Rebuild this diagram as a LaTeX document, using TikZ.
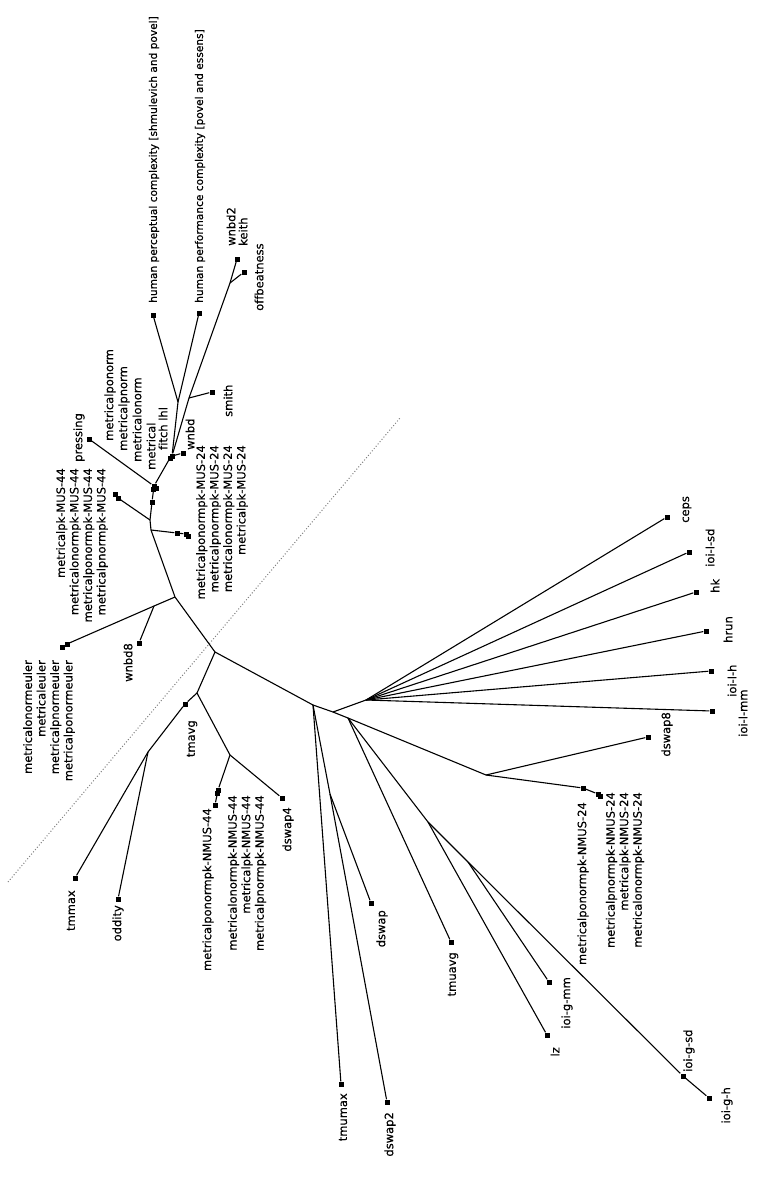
\documentclass[tikz,border=0pt]{standalone}
\usepackage{fontspec}
\setmainfont{DejaVu Sans}
\newfontfamily\lblfont[FakeBold=0.4,Ligatures=CommonOff]{DejaVu Sans}

\tikzset{
  leaf/.style={fill=black,inner sep=0pt,minimum size=5pt},
  lbl/.style={rotate=90,inner sep=0pt,font=\lblfont\fontsize{11.5}{13.5}\selectfont},
  longlbl/.style={lbl,font=\lblfont\fontsize{10.6}{13}\selectfont},
  twig/.style={line width=1.1pt}
}

\begin{document}
\begin{tikzpicture}[x=1pt,y=-1pt]
	\useasboundingbox (0,0) rectangle (762,1194);

	% split line
	\coordinate (cutA) at (8,882);
	\coordinate (cutB) at (400,418);
	\draw[gray,dotted,line width=1pt] (cutA) -- (cutB);

	% inner nodes
	\coordinate (a) at (215,652);
	\coordinate (b) at (175,597);
	\coordinate (b2) at (154,606);
	\coordinate (c) at (151,530);
	\coordinate (c2) at (150,520);
	\coordinate (g) at (178,402);
	\coordinate (h) at (189,398);
	\coordinate (h2) at (230,283);
	\coordinate (i) at (197,693);
	\coordinate (k) at (148,752);
	\coordinate (j) at (230,755);
	\coordinate (l) at (313,705);
	\coordinate (u) at (330,794);
	\coordinate (n) at (333,712);
	\coordinate (v) at (348,718);
	\coordinate (p) at (366,700);
	\coordinate (q) at (486,775);
	\coordinate (r) at (428,822);
	\coordinate (s) at (468,862);

	% leaves
	\node[leaf] (hperc) at (153,315) {};
	\node[leaf] (hperf) at (199,313) {};
	\node[leaf] (wnbdtwo) at (237,259) {};
	\node[leaf] (offb) at (244,272) {};
	\node[leaf] (smith) at (212,392) {};
	\node[leaf] (wnbd) at (183,453) {};
	\node[leaf] (fitchA) at (170,458) {};
	\node[leaf] (fitchB) at (172,456) {};
	\node[leaf] (metrA) at (154,486) {};
	\node[leaf] (metrB) at (156,488) {};
	\node[leaf] (metrC) at (153,489) {};
	\node[leaf] (pressing) at (89,439) {};
	\node[leaf] (wnbdfour) at (152,502) {};
	\node[leaf] (musfourA) at (115,494) {};
	\node[leaf] (musfourB) at (118,498) {};
	\node[leaf] (mustwoA) at (177,533) {};
	\node[leaf] (mustwoB) at (186,534) {};
	\node[leaf] (mustwoC) at (188,536) {};
	\node[leaf] (eulA) at (62,647) {};
	\node[leaf] (eulB) at (67,644) {};
	\node[leaf] (wnbdeight) at (139,643) {};
	\node[leaf] (tmavg) at (185,704) {};
	\node[leaf] (tmmax) at (75,878) {};
	\node[leaf] (oddity) at (118,899) {};
	\node[leaf] (nmfourA) at (218,790) {};
	\node[leaf] (nmfourB) at (217,793) {};
	\node[leaf] (nmfourC) at (215,805) {};
	\node[leaf] (dswapfour) at (282,798) {};
	\node[leaf] (tmumax) at (341,1084) {};
	\node[leaf] (dswaptwo) at (387,1102) {};
	\node[leaf] (dswap) at (371,903) {};
	\node[leaf] (tmuavg) at (451,942) {};
	\node[leaf] (lz) at (547,1035) {};
	\node[leaf] (iogmm) at (549,982) {};
	\node[leaf] (iogsd) at (683,1076) {};
	\node[leaf] (iogh) at (709,1098) {};
	\node[leaf] (nmtwoA) at (583,788) {};
	\node[leaf] (nmtwoB) at (598,794) {};
	\node[leaf] (nmtwoC) at (600,796) {};
	\node[leaf] (dswapeight) at (648,737) {};
	\node[leaf] (ceps) at (667,517) {};
	\node[leaf] (ioilsd) at (689,552) {};
	\node[leaf] (hk) at (696,592) {};
	\node[leaf] (hrun) at (706,631) {};
	\node[leaf] (ioilh) at (711,671) {};
	\node[leaf] (ioilmm) at (712,711) {};

	% branches
	\begin{scope}[twig]
		\draw (i) -- (a) -- (l);
		\draw (a) -- (b) -- (c) -- (c2) -- (wnbdfour) -- (metrA);
		\draw (b) -- (b2) -- (eulB) -- (eulA);
		\draw (b2) -- (wnbdeight);
		\draw (c) -- (mustwoA) -- (mustwoB);
		\draw (c2) -- (musfourB) -- (musfourA);
		\draw (metrA) -- (pressing);
		\draw (metrA) -- (fitchA);
		\draw (fitchB) -- (wnbd);
		\draw (fitchB) -- (g) -- (hperc);
		\draw (g) -- (hperf);
		\draw (fitchB) -- (h) -- (h2) -- (wnbdtwo);
		\draw (h) -- (smith);
		\draw (h2) -- (offb);
		\draw (i) -- (tmavg) -- (k) -- (tmmax);
		\draw (k) -- (oddity);
		\draw (i) -- (j) -- (nmfourA) -- (nmfourC);
		\draw (j) -- (dswapfour);
		\draw (l) -- (tmumax);
		\draw (l) -- (u) -- (dswaptwo);
		\draw (u) -- (dswap);
		\draw (l) -- (n) -- (p);
		\draw (n) -- (v) -- (q) -- (dswapeight);
		\draw (q) -- (nmtwoA) -- (nmtwoB);
		\draw (v) -- (tmuavg);
		\draw (v) -- (r) -- (lz);
		\draw (r) -- (s) -- (iogmm);
		\draw (s) -- (iogsd) -- (iogh);
		\foreach \fan in {ceps,ioilsd,hk,hrun,ioilh,ioilmm}
			\draw (p) -- (\fan);
	\end{scope}

	% labels
	\node[longlbl,anchor=west] (hpercL) at (154,303) {human perceptual complexity [shmulevich and povel]};
	\node[longlbl,anchor=west] (hperfL) at (200,303) {human performance complexity [povel and essens]};
	\node[lbl,anchor=west] (wnbdtwoL) at (231,246) {wnbd2};
	\node[lbl,anchor=west] (keithL) at (243,246) {keith};
	\node[lbl,anchor=west] (offbL) at (259,311) {offbeatness};
	\node[lbl,anchor=west] (smithL) at (228,417) {smith};
	\node[lbl,anchor=west] (wnbdL) at (190,450) {wnbd};
	\node[lbl,anchor=west] (fitchL) at (163,450) {fitch lhl};
	\node[lbl,anchor=west] (metrL) at (151,470) {metrical};
	\node[lbl,anchor=west] (metronL) at (137,462) {metricalonorm};
	\node[lbl,anchor=west] (metrpnL) at (124,451) {metricalpnorm};
	\node[lbl,anchor=west] (metrponL) at (110,441) {metricalponorm};
	\node[lbl,anchor=west] (pressingL) at (79,462) {pressing};
	\node[lbl,anchor=east,align=right] (musfourL) at (82,468)
		{metricalpk-MUS-44\\metricalonormpk-MUS-44\\metricalponormpk-MUS-44\\metricalpnormpk-MUS-44};
	\node[lbl,anchor=east,align=right] (mustwoL) at (222,445)
		{metricalponormpk-MUS-24\\metricalpnormpk-MUS-24\\metricalonormpk-MUS-24\\metricalpk-MUS-24};
	\node[lbl,anchor=east,align=right] (eulL) at (49,660)
		{metricalonormeuler\\metricaleuler\\metricalpnormeuler\\metricalponormeuler};
	\node[lbl,anchor=east] (wnbdeightL) at (128,643) {wnbd8};
	\node[lbl,anchor=east] (tmavgL) at (192,720) {tmavg};
	\node[lbl,anchor=east] (tmmaxL) at (71,890) {tmmax};
	\node[lbl,anchor=east] (oddityL) at (118,905) {oddity};
	\node[lbl,anchor=east] (nmfourL) at (208,808) {metricalponormpk-NMUS-44};
	\node[lbl,anchor=east,align=right] (nmfourBL) at (247,795)
		{metricalonormpk-NMUS-44\\metricalpk-NMUS-44\\metricalpnormpk-NMUS-44};
	\node[lbl,anchor=east] (dswapfourL) at (288,807) {dswap4};
	\node[lbl,anchor=east] (nmtwoL) at (583,802) {metricalponormpk-NMUS-24};
	\node[lbl,anchor=east,align=right] (nmtwoBL) at (625,792)
		{metricalpnormpk-NMUS-24\\metricalpk-NMUS-24\\metricalonormpk-NMUS-24};
	\node[lbl,anchor=east] (dswapeightL) at (667,712) {dswap8};
	\node[lbl,anchor=west] (cepsL) at (687,523) {ceps};
	\node[lbl,anchor=west] (ioilsdL) at (710,567) {ioi-l-sd};
	\node[lbl,anchor=west] (hkL) at (715,593) {hk};
	\node[lbl,anchor=west] (hrunL) at (728,643) {hrun};
	\node[lbl,anchor=west] (ioilhL) at (732,697) {ioi-l-h};
	\node[lbl,anchor=west] (ioilmmL) at (743,737) {ioi-l-mm};
	\node[lbl,anchor=east] (tmumaxL) at (343,1093) {tmumax};
	\node[lbl,anchor=east] (dswaptwoL) at (390,1112) {dswap2};
	\node[lbl,anchor=east] (dswapL) at (382,910) {dswap};
	\node[lbl,anchor=east] (tmuavgL) at (453,952) {tmuavg};
	\node[lbl,anchor=east] (lzL) at (555,1047) {lz};
	\node[lbl,anchor=east] (iogmmL) at (567,977) {ioi-g-mm};
	\node[lbl,anchor=west] (iogsdL) at (689,1072) {ioi-g-sd};
	\node[lbl,anchor=east] (ioghL) at (727,1087) {ioi-g-h};
\end{tikzpicture}
\end{document}
